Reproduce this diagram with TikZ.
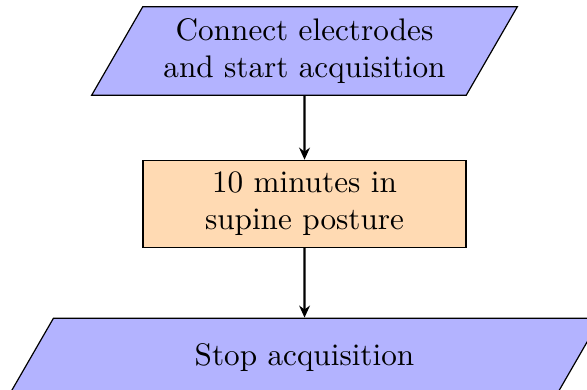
\documentclass[tikz,border=0pt]{standalone}
\usetikzlibrary{arrows.meta,shapes.geometric,positioning}
\definecolor{iobox}{RGB}{179,179,255}
\definecolor{procbox}{RGB}{255,218,179}

\begin{document}
\begin{tikzpicture}[
  font=\fontsize{10.4}{12.5}\selectfont,
  io/.style={trapezium,trapezium left angle=60,trapezium right angle=120,
    draw,fill=iobox,align=center,inner xsep=3.33pt,inner ysep=3.8pt,text width=101.2pt},
  proc/.style={rectangle,draw,fill=procbox,align=center,inner xsep=3.33pt,inner ysep=3.8pt,text width=101pt},
  flow/.style={-{Stealth[length=4pt,width=3.6pt]},thick}]
  \clip (0,0) rectangle (195.67pt,-130pt);
  % acquisition protocol
  \node[io] (connect) at (101.5pt,-17pt) {Connect electrodes\\and start acquisition};
  \node[proc,below=21.3pt of connect] (supine) {10 minutes in\\supine posture};
  \node[io,text width=160.7pt,inner ysep=8.4pt,below=23.2pt of supine] (stop) {Stop acquisition};
  \draw[flow] (connect) -- (supine);
  \draw[flow] (supine) -- (stop);
\end{tikzpicture}
\end{document}
